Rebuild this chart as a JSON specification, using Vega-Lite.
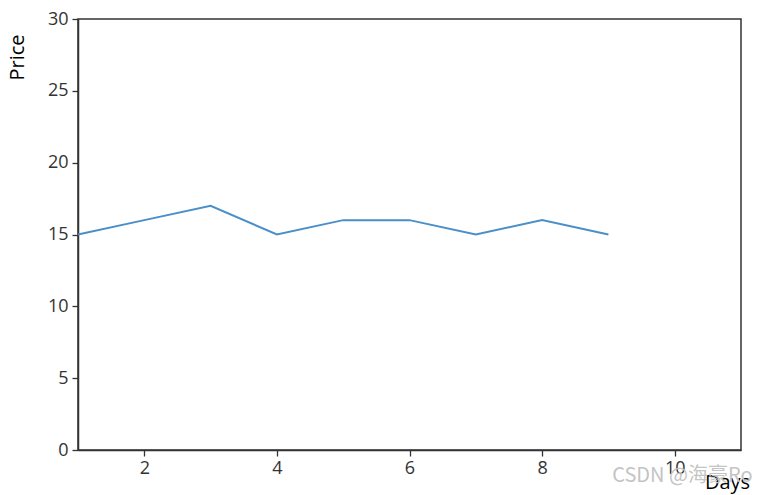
{
  "$schema": "https://vega.github.io/schema/vega-lite/v6.json",
  "autosize": {"type": "none"},
  "width": 663,
  "height": 431,
  "padding": {"left": 78, "top": 19, "right": 27, "bottom": 45},
  "background": "#ffffff",
  "config": {
    "view": {"stroke": "#333333", "strokeWidth": 1.5},
    "font": "Open Sans",
    "axis": {
      "grid": false,
      "domainColor": "#333333",
      "domainWidth": 1.5,
      "tickColor": "#333333",
      "tickSize": 6,
      "tickWidth": 1.3,
      "labelColor": "#333333",
      "labelFont": "Open Sans",
      "labelFontSize": 18,
      "titleFont": "Open Sans",
      "titleFontWeight": "normal",
      "titleFontSize": 20,
      "titleColor": "#000000"
    }
  },
  "title": {
    "text": "CSDN @海豪Ro",
    "orient": "bottom",
    "anchor": "end",
    "color": "#c4c4c4",
    "fontSize": 20,
    "fontWeight": "normal",
    "font": "Noto Sans CJK SC",
    "offset": -26,
    "dx": 3
  },
  "data": {
    "values": [
      {"day": 1, "price": 15},
      {"day": 2, "price": 16},
      {"day": 3, "price": 17},
      {"day": 4, "price": 15},
      {"day": 5, "price": 16},
      {"day": 6, "price": 16},
      {"day": 7, "price": 15},
      {"day": 8, "price": 16},
      {"day": 9, "price": 15}
    ]
  },
  "mark": {"type": "line", "color": "#4a8fc9", "strokeWidth": 2},
  "encoding": {
    "x": {
      "field": "day",
      "type": "quantitative",
      "scale": {"domain": [1, 11], "nice": false, "zero": false},
      "axis": {
        "values": [2, 4, 6, 8, 10],
        "title": "Days",
        "titleX": 649,
        "titleY": 32,
        "titleAnchor": null,
        "titleAlign": "center",
        "titleBaseline": "middle",
        "labelPadding": 3
      }
    },
    "y": {
      "field": "price",
      "type": "quantitative",
      "scale": {"domain": [0, 30], "nice": false},
      "axis": {
        "values": [0, 5, 10, 15, 20, 25, 30],
        "title": "Price",
        "titleX": -61,
        "titleY": 38,
        "titleAngle": -90,
        "titleAlign": "center",
        "titleBaseline": "middle",
        "labelPadding": 4
      }
    }
  }
}
